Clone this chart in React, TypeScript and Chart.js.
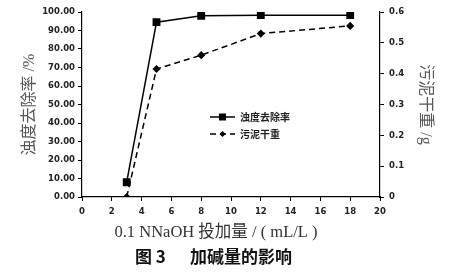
import React, { useEffect, useRef } from "react";
import { Chart, registerables } from "chart.js";

Chart.register(...registerables);

const doses = [3, 5, 8, 12, 18];
const removalRate = [8.0, 94.5, 98.0, 98.3, 98.3];
const sludgeWeight = [0.0, 0.415, 0.46, 0.53, 0.555];
const seriesNames = ["浊度去除率", "污泥干重"];
const xTitle = "0.1 NNaOH 投加量 / ( mL/L )";
const yLeftTitle = "浊度去除率 /%";
const yRightTitle = "污泥干重 /g";
const captionFig = "图 3";
const captionText = "加碱量的影响";

const tickFont = { family: "'DejaVu Sans', sans-serif", size: 8.5, weight: "bold" as const };
const titleFont = { family: "'Liberation Serif', 'Noto Sans CJK SC', serif", size: 16 };

const overlayPlugin = {
  id: "overlay",
  afterDraw(chart: any) {
    const ctx = chart.ctx;
    ctx.save();
    // legend
    const items = chart.data.datasets;
    items.forEach((ds: any, i: number) => {
      const y = 117 + i * 17;
      ctx.strokeStyle = "#000";
      ctx.lineWidth = 1.5;
      ctx.setLineDash(ds.borderDash || []);
      ctx.beginPath();
      ctx.moveTo(210, y);
      ctx.lineTo(235, y);
      ctx.stroke();
      ctx.setLineDash([]);
      ctx.fillStyle = "#000";
      if (ds.pointStyle === "rect") {
        ctx.fillRect(219, y - 3.5, 7, 7);
      } else {
        ctx.beginPath();
        ctx.moveTo(222.5, y - 3);
        ctx.lineTo(225.5, y);
        ctx.lineTo(222.5, y + 3);
        ctx.lineTo(219.5, y);
        ctx.closePath();
        ctx.fill();
      }
      ctx.font = "bold 10px 'Noto Sans CJK SC', sans-serif";
      ctx.textBaseline = "middle";
      ctx.textAlign = "left";
      ctx.fillStyle = "#222";
      ctx.fillText(ds.label, 240, y);
    });
    // x axis title
    ctx.font = "16.5px 'Liberation Serif', 'Noto Sans CJK SC', serif";
    ctx.textAlign = "center";
    ctx.textBaseline = "middle";
    ctx.fillStyle = "#333";
    ctx.fillText(xTitle, 216, 233);
    // caption
    ctx.font = "bold 17px 'Noto Sans CJK SC', sans-serif";
    ctx.textAlign = "left";
    ctx.fillStyle = "#111";
    ctx.fillText(captionFig, 135, 257);
    ctx.fillText(captionText, 190, 257);
    ctx.restore();
  },
};

export default function App() {
  const ref = useRef<HTMLCanvasElement>(null);
  useEffect(() => {
    if (!ref.current) return;
    const chart = new Chart(ref.current, {
      type: "line",
      data: {
        datasets: [
          {
            label: seriesNames[0],
            data: doses.map((x, i) => ({ x, y: removalRate[i] })),
            borderColor: "#000",
            backgroundColor: "#000",
            borderWidth: 1.5,
            pointStyle: "rect",
            pointRadius: 4.5,
            yAxisID: "y",
          },
          {
            label: seriesNames[1],
            data: doses.map((x, i) => ({ x, y: sludgeWeight[i] })),
            borderColor: "#000",
            backgroundColor: "#000",
            borderWidth: 1.5,
            borderDash: [6, 4],
            pointStyle: "rectRot",
            pointRadius: 3,
            yAxisID: "y1",
          },
        ],
      },
      options: {
        responsive: false,
        animation: false,
        layout: { padding: { top: 12, left: 0, right: 0, bottom: 0 } },
        plugins: { legend: { display: false }, tooltip: { enabled: false } },
        scales: {
          x: {
            type: "linear",
            min: 0,
            max: 20,
            ticks: { stepSize: 2, font: tickFont, color: "#222", padding: 6 },
            grid: { drawOnChartArea: false, drawTicks: true, tickLength: 4, color: "#000" },
            border: { color: "#000", width: 1.2 },
            title: { display: false },
            afterFit(scale: any) { scale.height = 76; },
          },
          y: {
            type: "linear",
            position: "left",
            min: 0,
            max: 100,
            ticks: { stepSize: 10, font: tickFont, color: "#222", padding: 3, callback: (v: any) => Number(v).toFixed(2) },
            grid: { drawOnChartArea: false, drawTicks: true, tickLength: 4, color: "#000" },
            border: { color: "#000", width: 1.2 },
            title: { display: true, text: yLeftTitle, font: titleFont, color: "#555", padding: { top: 20, bottom: 0 } },
            afterFit(scale: any) { scale.width = 82; },
          },
          y1: {
            type: "linear",
            position: "right",
            min: 0,
            max: 0.6,
            ticks: { stepSize: 0.1, font: tickFont, color: "#222", padding: 5, callback: (v: any) => (Number(v) === 0 ? "0" : Number(v).toFixed(1)) },
            grid: { drawOnChartArea: false, drawTicks: true, tickLength: 4, color: "#000" },
            border: { color: "#000", width: 1.2 },
            title: { display: true, text: yRightTitle, font: titleFont, color: "#555", padding: { top: 14, bottom: 0 } },
            afterFit(scale: any) { scale.width = 69; },
          },
        },
      },
      plugins: [overlayPlugin],
    });
    return () => chart.destroy();
  }, []);
  return (
    <div style={{ position: "fixed", left: 0, top: 0, width: 449, height: 273, background: "#fff" }}>
      <canvas ref={ref} width={449} height={273} />
    </div>
  );
}
